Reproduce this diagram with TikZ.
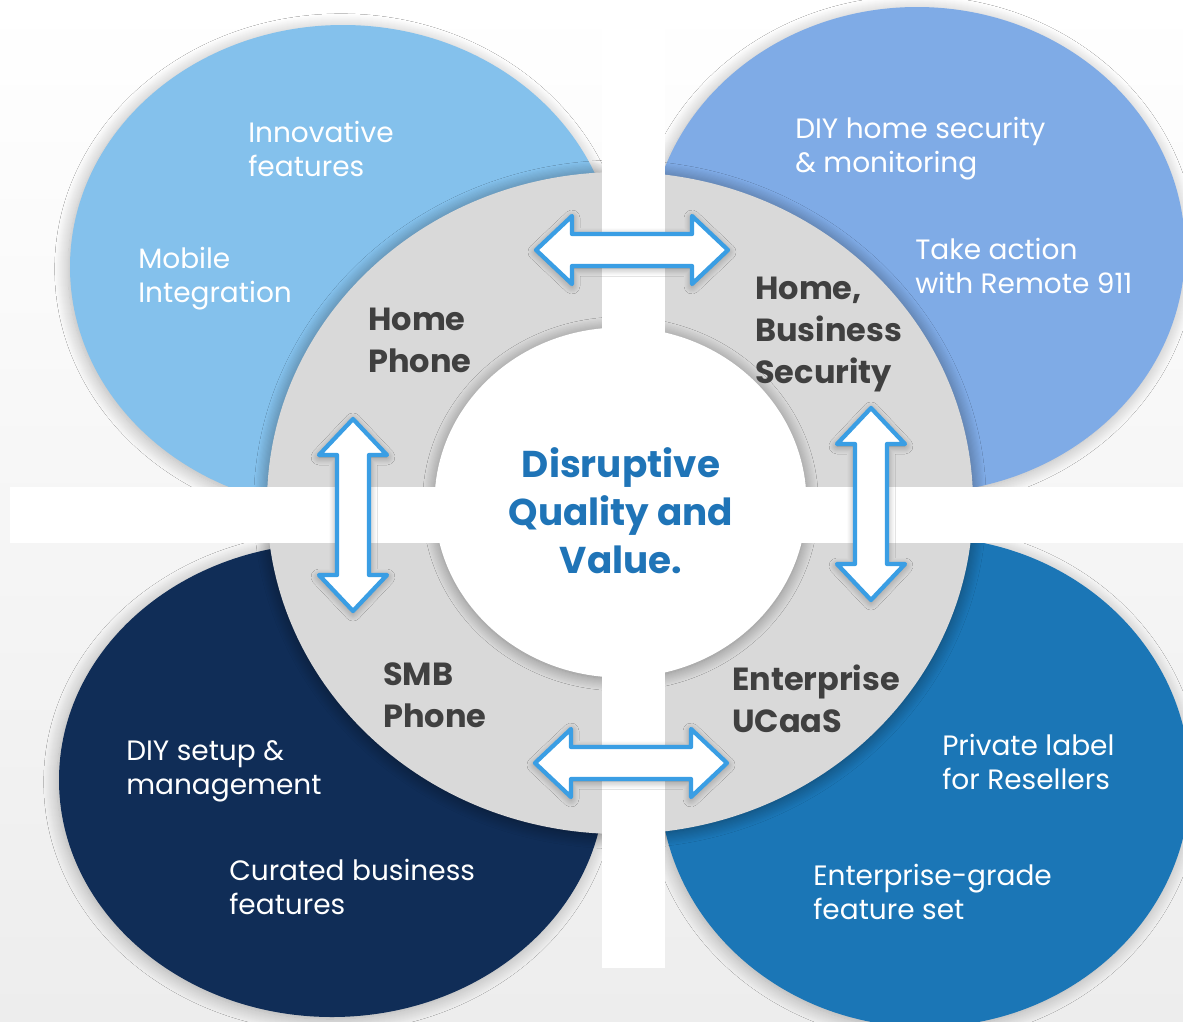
\documentclass[tikz,border=0pt]{standalone}
\usepackage{fontspec}
\setmainfont{Poppins}
\usetikzlibrary{shadows.blur}

\definecolor{bggray}{HTML}{EDEDED}
\definecolor{homeblue}{HTML}{84C1EC}
\definecolor{secblue}{HTML}{7FABE6}
\definecolor{smbnavy}{HTML}{102D57}
\definecolor{entblue}{HTML}{1B76B6}
\definecolor{ringgray}{HTML}{D9D9D9}
\definecolor{arrowblue}{HTML}{3A9EE4}
\definecolor{coreblue}{HTML}{1F74B7}
\definecolor{headgray}{HTML}{404040}

\tikzset{
  petalshadow/.style={blur shadow={shadow blur radius=10pt, shadow xshift=-1.5pt,
      shadow yshift=-1.5pt, shadow opacity=28, shadow blur steps=14}},
  ringshadow/.style={blur shadow={shadow blur radius=10pt, shadow xshift=0pt,
      shadow yshift=-1pt, shadow opacity=45, shadow blur steps=12}},
  coreshadow/.style={blur shadow={shadow blur radius=9pt, shadow xshift=0pt,
      shadow yshift=-1pt, shadow opacity=40, shadow blur steps=12}},
  arrowline/.style={draw=arrowblue, fill=white, line width=3.2pt, line join=round,
      blur shadow={shadow blur radius=6pt, shadow xshift=0pt, shadow yshift=-1.5pt,
      shadow opacity=40, shadow blur steps=10}},
  twoway/.pic={
    \path[arrowline] (-96,0) -- (-60,-34) -- (-60,-16) -- (60,-16) -- (60,-34)
      -- (96,0) -- (60,34) -- (60,16) -- (-60,16) -- (-60,34) -- cycle;
  },
  % the base anchor of these multi-line nodes sits on the last line
  note/.style={text=white, font=\fontsize{21}{25.5}\selectfont, align=left,
      anchor=base west, inner sep=0pt},
  segment/.style={text=headgray, font=\fontsize{24}{31.5}\selectfont\bfseries,
      align=left, anchor=base west, inner sep=0pt},
  core/.style={text=coreblue, font=\fontsize{28}{36}\selectfont\bfseries,
      align=center, anchor=base, inner sep=0pt},
}

\begin{document}
\begin{tikzpicture}[x=0.75pt, y=-0.75pt]
  \useasboundingbox (0,0) rectangle (1183,1022);
  \shade[top color=white, bottom color=bggray] (0,0) rectangle (1183,1022);

  % four market petals
  \fill[homeblue, petalshadow] (343,267) ellipse [x radius=273, y radius=242];
  \fill[secblue, petalshadow] (917,250) ellipse [x radius=268, y radius=243];
  \fill[smbnavy, petalshadow] (332,780) ellipse [x radius=273, y radius=237];
  \fill[entblue, petalshadow] (925,782) ellipse [x radius=265, y radius=245];

  % gray ring and white core
  \fill[ringgray, ringshadow] (620,503) ellipse [x radius=353, y radius=331];
  \fill[white, coreshadow] (620.5,502.5) ellipse [x radius=186, y radius=175];

  % white cross
  \fill[white] (602,0) rectangle (665,968);
  \fill[white] (10,487) rectangle (1183,543);

  % two-way arrows between the segments
  \pic (toparrow) at (632,250) {twoway};
  \pic (bottomarrow) at (631,763) {twoway};
  \pic[rotate=90] (leftarrow) at (353,515) {twoway};
  \pic[rotate=90] (rightarrow) at (871,504) {twoway};

  % petal notes
  \node[note] (innov) at (248,176) {Innovative\\features};
  \node[note] (mobile) at (138,302) {Mobile\\Integration};
  \node[note] (diysec) at (795,172) {DIY home security\\\& monitoring};
  \node[note] (remote) at (915,293) {Take action\\with Remote 911};
  \node[note] (diysetup) at (126,794) {DIY setup \&\\management};
  \node[note] (curated) at (229,914) {Curated business\\features};
  \node[note] (private) at (942,789) {Private label\\for Resellers};
  \node[note] (entgrade) at (813,919) {Enterprise-grade\\feature set};

  % segment names on the ring
  \node[segment] (homephone) at (368,372) {Home\\Phone};
  \node[segment] (security) at (755,383) {Home,\\Business\\Security};
  \node[segment] (smb) at (383,727) {SMB\\Phone};
  \node[segment] (ucaas) at (732,732) {Enterprise\\UCaaS};

  % core message
  \node[core] (value) at (621,573) {Disruptive\\Quality and\\Value.};
\end{tikzpicture}
\end{document}
